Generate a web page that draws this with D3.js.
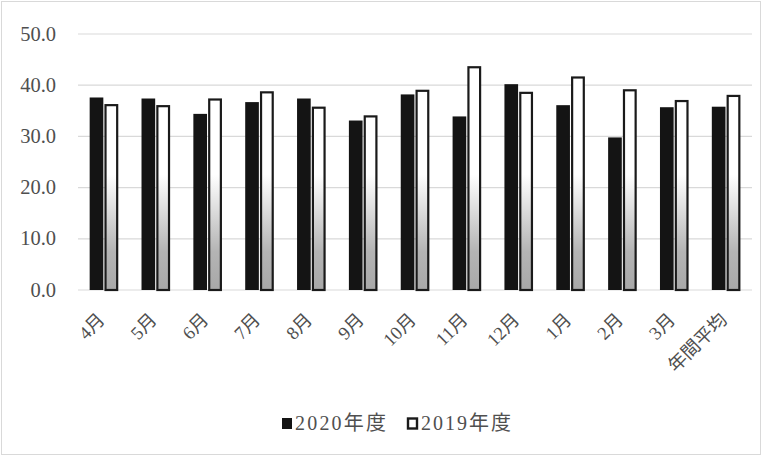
<!DOCTYPE html>
<html lang="ja">
<head>
<meta charset="UTF-8">
<script src="https://d3js.org/d3.v7.min.js"></script>
<style>
  body { margin: 0; background: #fff; }
  svg { display: block; }
</style>
</head>
<body>
<svg width="762" height="456"></svg>
<script>
// データ
const months = ["4月", "5月", "6月", "7月", "8月", "9月", "10月", "11月", "12月", "1月", "2月", "3月", "年間平均"];
const series = ["2020年度", "2019年度"];
const v2020 = [37.6, 37.4, 34.4, 36.7, 37.4, 33.1, 38.2, 33.9, 40.2, 36.1, 29.8, 35.7, 35.8];
const v2019 = [36.3, 36.1, 37.4, 38.8, 35.8, 34.1, 39.1, 43.7, 38.7, 41.7, 39.2, 37.1, 38.1];
const yTicks = [0, 10, 20, 30, 40, 50];

const FONT = '"Liberation Serif", "Times New Roman", "Noto Sans CJK JP", serif';
const TXT = "#4f4f4f";

const svg = d3.select("svg");
const W = 762, H = 456;
const m = { left: 78, right: 10, top: 34, bottom: 166 };

// cadre
svg.append("rect").attr("x", 1.5).attr("y", 1.5).attr("width", W - 3).attr("height", H - 3)
  .attr("fill", "#fff").attr("stroke", "#d9d9d9");

const x0 = d3.scaleBand().domain(months).range([m.left, W - m.right]).paddingInner(0.45).paddingOuter(0.225);
const x1 = d3.scaleBand().domain(series).range([0, x0.bandwidth()]).paddingInner(0.08);
const y = d3.scaleLinear().domain([0, 50]).range([H - m.bottom, m.top]);

// dégradé des barres 2019
const defs = svg.append("defs");
const grad = defs.append("linearGradient").attr("id", "g19")
  .attr("gradientUnits", "userSpaceOnUse")
  .attr("x1", 0).attr("x2", 0).attr("y1", y(50)).attr("y2", y(0));
grad.append("stop").attr("offset", "0.55").attr("stop-color", "#ffffff");
grad.append("stop").attr("offset", "0.85").attr("stop-color", "#b4b4b4");
grad.append("stop").attr("offset", "1").attr("stop-color", "#a8a8a8");

// grille
svg.append("g").selectAll("line").data(yTicks).join("line")
  .attr("x1", m.left).attr("x2", W - m.right)
  .attr("y1", d => y(d)).attr("y2", d => y(d))
  .attr("stroke", "#d9d9d9").attr("stroke-width", 1.2);

// axe y
const yAxis = svg.append("g").attr("transform", `translate(${m.left - 22},0)`)
  .call(d3.axisLeft(y).tickValues(yTicks).tickFormat(d3.format(".1f")).tickSize(0));
yAxis.attr("font-family", FONT).attr("font-size", 20.5);
yAxis.select(".domain").remove();
yAxis.selectAll("text").attr("fill", TXT).attr("x", 0).attr("dy", "0.3em");

// barres
const groups = svg.append("g").selectAll("g").data(months).join("g")
  .attr("transform", d => `translate(${x0(d)},0)`);

groups.append("rect")
  .attr("x", x1(series[0]))
  .attr("y", (d, i) => y(v2020[i]))
  .attr("width", x1.bandwidth())
  .attr("height", (d, i) => y(0) - y(v2020[i]))
  .attr("fill", "#141414");

groups.append("rect")
  .attr("x", x1(series[1]) + 1)
  .attr("y", (d, i) => y(v2019[i]) + 1)
  .attr("width", x1.bandwidth() - 2)
  .attr("height", (d, i) => y(0) - y(v2019[i]) - 1)
  .attr("fill", "url(#g19)")
  .attr("stroke", "#1a1a1a").attr("stroke-width", 2.2);

// axe x
svg.append("g").selectAll("text").data(months).join("text")
  .attr("transform", d => `translate(${x0(d) + x0.bandwidth() / 2 + 2},${y(0) + 31}) rotate(-45)`)
  .attr("text-anchor", "end")
  .attr("font-family", FONT)
  .attr("font-size", 18.5)
  .attr("fill", TXT)
  .text(d => d);

// légende
const leg = svg.append("g").attr("transform", "translate(282,423)")
  .attr("font-family", FONT).attr("font-size", 20).attr("fill", TXT);
leg.append("rect").attr("x", 0).attr("y", -5).attr("width", 10).attr("height", 11).attr("fill", "#141414");
leg.append("text").attr("x", 13).attr("y", 0).attr("dy", "0.35em").attr("textLength", 91).text(series[0]);
leg.append("rect").attr("x", 126).attr("y", -4.5).attr("width", 9).attr("height", 10)
  .attr("fill", "#fff").attr("stroke", "#1a1a1a").attr("stroke-width", 2.4);
leg.append("text").attr("x", 139).attr("y", 0).attr("dy", "0.35em").attr("textLength", 90).text(series[1]);
</script>
</body>
</html>
